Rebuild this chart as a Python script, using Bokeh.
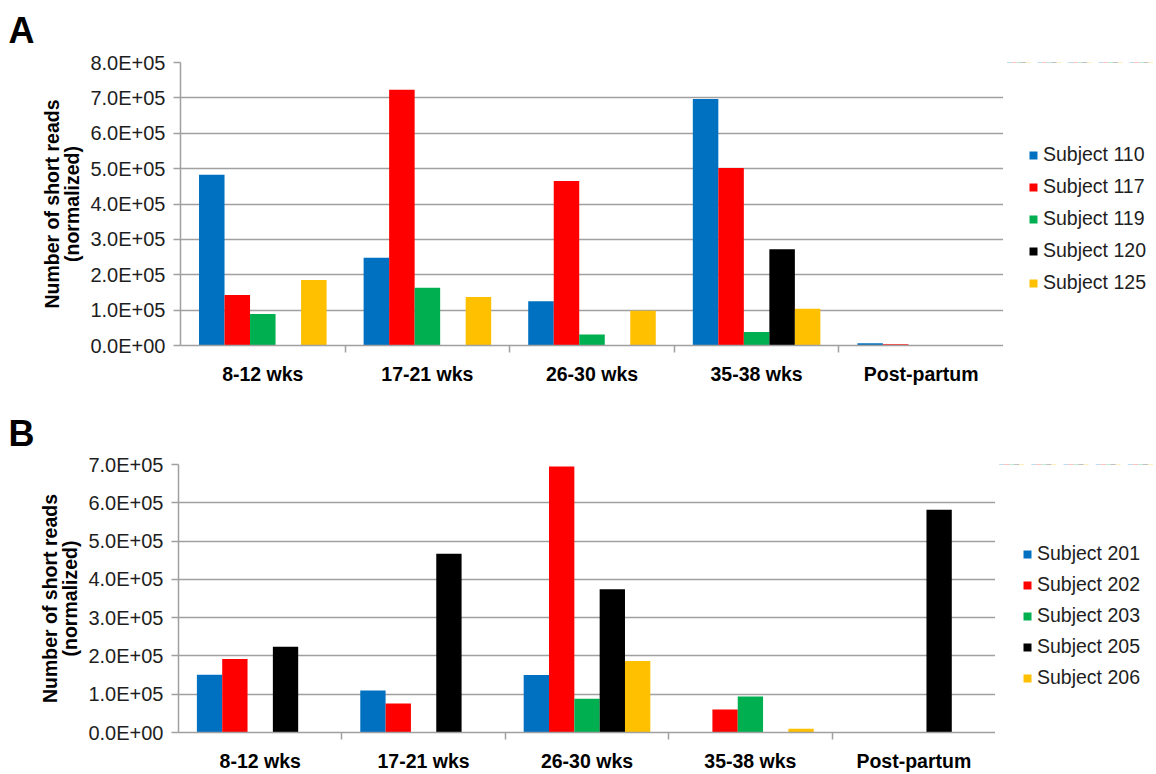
from bokeh.plotting import figure
from bokeh.layouts import column, row
from bokeh.models import (Range1d, FactorRange, FixedTicker, CategoricalAxis, Legend, LegendItem,
                          CustomJSTickFormatter, ColumnDataSource)
from bokeh.transform import dodge
from bokeh.embed import file_html
from bokeh.resources import INLINE

categories = ["8-12 wks", "17-21 wks", "26-30 wks", "35-38 wks", "Post-partum"]

# Panel A
subjects_a = ["Subject 110", "Subject 117", "Subject 119", "Subject 120", "Subject 125"]
subject_110 = [4.83e5, 2.48e5, 1.25e5, 6.97e5, 6.5e3]
subject_117 = [1.43e5, 7.23e5, 4.65e5, 5.02e5, 3.5e3]
subject_119 = [0.89e5, 1.63e5, 0.31e5, 0.38e5, 0]
subject_120 = [0, 0, 0, 2.72e5, 0]
subject_125 = [1.85e5, 1.37e5, 0.98e5, 1.04e5, 0]
ticks_a = [0, 1e5, 2e5, 3e5, 4e5, 5e5, 6e5, 7e5, 8e5]

# Panel B
subjects_b = ["Subject 201", "Subject 202", "Subject 203", "Subject 205", "Subject 206"]
subject_201 = [1.51e5, 1.10e5, 1.50e5, 0, 0]
subject_202 = [1.92e5, 0.76e5, 6.95e5, 0.60e5, 0]
subject_203 = [0, 0, 0.88e5, 0.94e5, 0]
subject_205 = [2.24e5, 4.67e5, 3.74e5, 0, 5.82e5]
subject_206 = [0, 0, 1.87e5, 0.10e5, 0]
ticks_b = [0, 1e5, 2e5, 3e5, 4e5, 5e5, 6e5, 7e5]

colors = ["#0070C0", "#FF0000", "#00B050", "#000000", "#FFC000"]
offsets = [-0.31, -0.155, 0.0, 0.155, 0.31]
BAR_W = 0.155

FONT = "Liberation Sans"
GRID = "#A0A0A0"
TXT = "#1E1E1E"
H = 387

fmt = CustomJSTickFormatter(code=r"""
const s = tick.toExponential(1).toUpperCase();
return s.replace(/E([+-])(\d)$/, (m, a, b) => "E" + a + "0" + b);
""")


def make_panel(letter, subjects, series, ticks, geom, legend_loc, spacing, title_geom):
    left, right_x, top, bottom = geom

    p = figure(width=right_x, height=H,
               x_range=FactorRange(*categories, range_padding=0, factor_padding=0),
               y_range=Range1d(0, ticks[-1]),
               output_backend="svg", toolbar_location=None,
               min_border_left=left, min_border_right=0,
               min_border_top=top, min_border_bottom=bottom)
    p.outline_line_color = None
    p.background_fill_color = "white"
    p.border_fill_color = "white"

    # panel letter as the plot title
    p.title.text = letter
    p.title.text_font = FONT
    p.title.text_font_size = "36px"
    p.title.text_font_style = "bold"
    p.title.text_color = "black"
    p.title.align = "left"
    p.title.vertical_align = "top"
    p.title.offset = title_geom[0]
    p.title.standoff = title_geom[1]

    src = ColumnDataSource(dict(cat=categories, **{f"s{i}": v for i, v in enumerate(series)}))
    for i, (col, off) in enumerate(zip(colors, offsets)):
        p.vbar(x=dodge("cat", off, range=p.x_range), top=f"s{i}", width=BAR_W,
               source=src, fill_color=col, line_color=None)

    # y axis
    yax = p.yaxis[0]
    yax.ticker = FixedTicker(ticks=ticks)
    yax.formatter = fmt
    yax.axis_line_color = GRID
    yax.axis_line_width = 1.5
    yax.major_tick_line_color = GRID
    yax.major_tick_line_width = 1.5
    yax.major_tick_out = 7
    yax.major_tick_in = 0
    yax.minor_tick_line_color = None
    yax.major_label_text_font = FONT
    yax.major_label_text_font_size = "20px"
    yax.major_label_text_color = TXT
    yax.major_label_standoff = 8
    yax.axis_label = "Number of short reads\n(normalized)"
    yax.axis_label_text_font = FONT
    yax.axis_label_text_font_size = "19.5px"
    yax.axis_label_text_font_style = "bold"
    yax.axis_label_text_color = "black"
    yax.axis_label_text_line_height = 0.95
    yax.axis_label_standoff = 4

    p.ygrid.ticker = FixedTicker(ticks=ticks)
    p.ygrid.grid_line_color = GRID
    p.ygrid.grid_line_width = 1.5
    p.xgrid.visible = False

    # category label axis (no line, no ticks)
    xax = p.xaxis[0]
    xax.axis_line_color = None
    xax.major_tick_line_color = None
    xax.minor_tick_line_color = None
    xax.major_label_text_font = FONT
    xax.major_label_text_font_size = "19.5px"
    xax.major_label_text_font_style = "bold"
    xax.major_label_text_color = "black"
    xax.major_label_standoff = 4

    # boundary tick axis (closest to frame): factors centred on category boundaries
    bounds = [f"b{i}" for i in range(len(categories) + 1)]
    p.extra_x_ranges = {"bnd": FactorRange(*bounds, range_padding=-0.5,
                                           range_padding_units="absolute", factor_padding=0)}
    bax = CategoricalAxis(x_range_name="bnd",
                          major_label_text_font_size="0px", major_label_standoff=0,
                          major_tick_out=7, major_tick_in=0,
                          major_tick_line_color=GRID, major_tick_line_width=1.5,
                          axis_line_color=GRID, axis_line_width=1.5,
                          minor_tick_line_color=None)
    p.below = [bax] + list(p.below)

    # legend in its own narrow figure right of the plot area (same series, kept out of view)
    lg = figure(width=1156 - right_x, height=H,
                x_range=FactorRange(*categories), y_range=Range1d(-2e7, -1e7),
                output_backend="svg", toolbar_location=None,
                x_axis_location=None, y_axis_location=None, min_border=0)
    lg.outline_line_color = None
    lg.grid.visible = False
    items = []
    for i, (name, col, off) in enumerate(zip(subjects, colors, offsets)):
        r = lg.vbar(x=dodge("cat", off, range=lg.x_range), top=f"s{i}", width=BAR_W,
                    source=src, fill_color=col, line_color=None)
        items.append(LegendItem(label=name, renderers=[r]))
    legend = Legend(items=items, location=legend_loc, orientation="vertical",
                    border_line_color=None, background_fill_alpha=0,
                    label_text_font=FONT, label_text_font_size="19.5px",
                    label_text_color=TXT, glyph_width=10, glyph_height=10,
                    label_standoff=5, spacing=spacing, padding=0, margin=0,
                    label_height=22)
    lg.add_layout(legend, "center")
    return row(p, lg, spacing=0)


pa = make_panel("A", subjects_a,
                [subject_110, subject_117, subject_119, subject_120, subject_125],
                ticks_a, (180, 1003, 62, 36), (25, 51), 9, (-172, 19))
pb = make_panel("B", subjects_b,
                [subject_201, subject_202, subject_203, subject_205, subject_206],
                ticks_b, (178, 995, 77, 34), (27, 43), 8, (-170, 17))

layout = column(pa, pb, spacing=0)
open("out.html", "w").write(file_html(layout, INLINE))
